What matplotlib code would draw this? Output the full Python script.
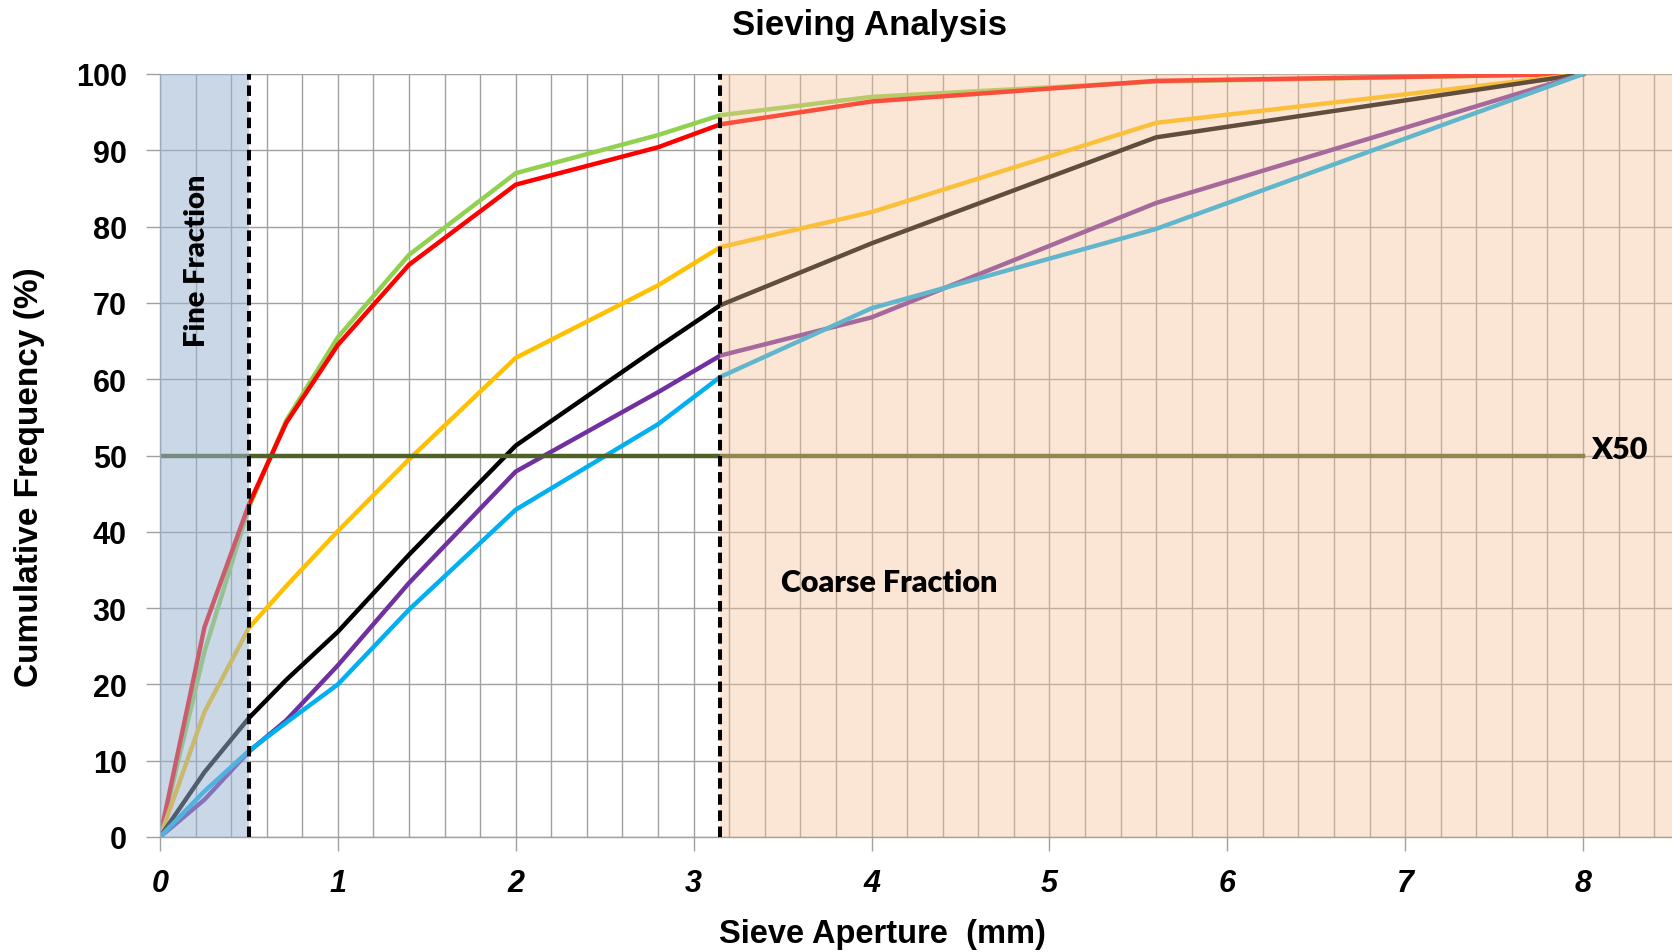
import numpy as np
import matplotlib
matplotlib.use('Agg')
import matplotlib.pyplot as plt

# sieve apertures (mm)
sieves = [0, 0.25, 0.5, 0.71, 1, 1.4, 2, 2.8, 3.15, 4, 5.6, 8]

# cumulative passing (%) for each sample
green = [0, 24.3, 43.2, 54.6, 65.5, 76.3, 87.0, 92.0, 94.6, 97.0, 99.0, 100]
red = [0, 27.5, 43.6, 54.3, 64.5, 75.0, 85.5, 90.4, 93.4, 96.4, 99.1, 100]
yellow = [0, 16.4, 27.4, 32.9, 40.1, 49.5, 62.8, 72.3, 77.3, 81.9, 93.6, 100]
black = [0, 8.5, 15.6, 20.6, 26.9, 37.0, 51.3, 64.2, 69.7, 77.8, 91.7, 100]
purple = [0, 4.9, 11.2, 15.3, 22.5, 33.3, 47.9, 58.3, 63.1, 68.1, 83.1, 100]
cyan = [0, 6.0, 11.3, 15.0, 20.0, 29.8, 42.9, 54.1, 60.3, 69.3, 79.7, 100]

series = [green, red, yellow, black, purple, cyan]
colors = ['#92D050', '#FF0000', '#FFC000', '#000000', '#7030A0', '#00B0F0']

fine_limit = 0.5
coarse_limit = 3.15
x50 = 50

fig = plt.figure(figsize=(16.72, 9.53), dpi=100)
ax = fig.add_axes([160 / 1672, 115 / 953, 1 - 160 / 1672, 763 / 953])

for vals, c in zip(series, colors):
    ax.plot(sieves, vals, color=c, lw=3.2, solid_joinstyle='round', zorder=2)

# X50 line
ax.plot([0, 8], [x50, x50], color='#4F6228', lw=3.2, zorder=2)

# shaded fractions drawn over the curves, like the original
ax.axvspan(0, fine_limit, color=(155 / 255, 180 / 255, 210 / 255), alpha=0.52, lw=0, zorder=3)
ax.axvspan(coarse_limit, 8.5, color=(245 / 255, 193 / 255, 150 / 255), alpha=0.4, lw=0, zorder=3)

for xv in [fine_limit, coarse_limit]:
    ax.axvline(xv, color='black', lw=2.9, dashes=(2.6, 1.4), zorder=4)

ax.set_xlim(0, 8.5)
ax.set_ylim(0, 100)
ax.set_xticks(range(0, 9))
ax.set_xticks(np.arange(0, 8.5, 0.2), minor=True)
ax.set_yticks(range(0, 101, 10))
ax.grid(True, which='major', axis='y', color='#A0A0A0', lw=1.0, zorder=0.5)
ax.grid(True, which='both', axis='x', color='#A0A0A0', lw=1.0, zorder=0.5)
ax.set_axisbelow(True)

ax.tick_params(axis='both', which='major', length=10, color='#A0A0A0', width=1.0)
ax.tick_params(axis='x', which='minor', length=0)
ax.tick_params(axis='y', pad=14)
ax.tick_params(axis='x', pad=12)

for s in ['top', 'right']:
    ax.spines[s].set_visible(False)
for s in ['left', 'bottom']:
    ax.spines[s].set_color('#A0A0A0')
    ax.spines[s].set_linewidth(1.0)

for lab in ax.get_yticklabels():
    lab.set_fontfamily('Liberation Sans')
    lab.set_fontweight('bold')
    lab.set_fontsize(22)
for lab in ax.get_xticklabels():
    lab.set_fontfamily('Liberation Sans')
    lab.set_fontweight('bold')
    lab.set_fontstyle('italic')
    lab.set_fontsize(22)

ax.text(0.21, 75.6, 'Fine Fraction', rotation=90, ha='center', va='center',
        fontsize=21, fontweight='heavy', family='Lato', zorder=5)
ax.text(3.49, 33.4, 'Coarse Fraction', ha='left', va='center',
        fontsize=22, fontweight='heavy', family='Lato', zorder=5)
ax.text(8.045, 50.8, 'X50', ha='left', va='center',
        fontsize=22, fontweight='heavy', family='Lato', zorder=5)

fig.text(869 / 1672, 1 - 26 / 953, 'Sieving Analysis', ha='center', va='center',
         fontsize=25, fontweight='bold', family='Liberation Sans')
fig.text(882 / 1672, 1 - 935 / 953, 'Sieve Aperture  (mm)', ha='center', va='center',
         fontsize=23.5, fontweight='bold', family='Liberation Sans')
fig.text(30 / 1672, 1 - 477 / 953, 'Cumulative Frequency (%)', ha='center', va='center',
         rotation=90, fontsize=24, fontweight='bold', family='Liberation Sans')

fig.savefig('out.png', dpi=100)
